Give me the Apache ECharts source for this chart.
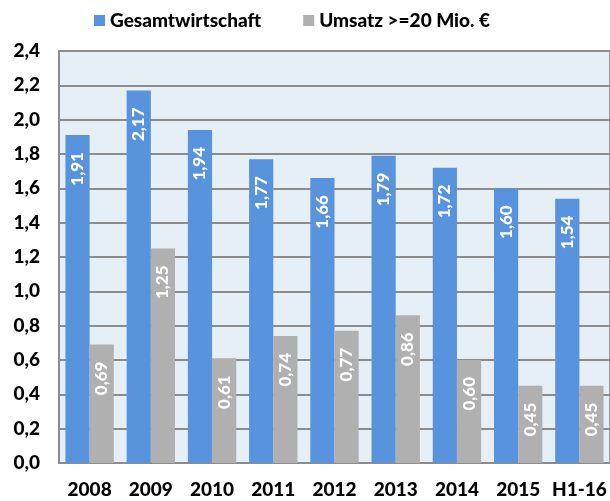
<!DOCTYPE html>
<html><head><meta charset="utf-8">
<script src="https://cdn.jsdelivr.net/npm/echarts@6/dist/echarts.min.js"></script>
<style>html,body{margin:0;padding:0;background:#fff}#c{width:610px;height:501px}</style>
</head><body><div id="c"></div>
<script>
const categories = ['2008','2009','2010','2011','2012','2013','2014','2015','H1-16'];
const gesamt = [1.91,2.17,1.94,1.77,1.66,1.79,1.72,1.60,1.54];
const umsatz = [0.69,1.25,0.61,0.74,0.77,0.86,0.60,0.45,0.45];
const seriesNames = ['Gesamtwirtschaft','Umsatz >=20 Mio. €'];
const FONT = 'Lato, "DejaVu Sans", sans-serif';
const fmt = v => v.toFixed(2).replace('.', ',');
const chart = echarts.init(document.getElementById('c'));
const lbl = {
  show: true, position: 'insideTop', rotate: 90, align: 'right', verticalAlign: 'middle',
  distance: 17, color: '#fff', fontFamily: FONT, fontWeight: 900, fontSize: 17,
  formatter: p => fmt(p.value)
};
chart.setOption({
  animation: false,
  legend: {
    top: 6, left: 89, itemWidth: 11, itemHeight: 11, itemGap: 42,
    textStyle: {fontFamily: FONT, fontWeight: 900, fontSize: 19, color: '#000'},
    data: seriesNames.map(n => ({name: n, icon: 'rect'}))
  },
  grid: {left: 59, right: 0, top: 51, bottom: 38, show: true, backgroundColor: '#e6eef6', borderColor: '#999', borderWidth: 2},
  xAxis: {
    type: 'category', data: categories,
    axisLine: {lineStyle: {color: '#8c8c8c', width: 2}},
    axisTick: {show: false},
    axisLabel: {interval: 0, fontFamily: FONT, fontWeight: 900, fontSize: 19, color: '#000', margin: 17}
  },
  yAxis: {
    type: 'value', min: 0, max: 2.4, interval: 0.2,
    axisLine: {show: true, lineStyle: {color: '#8c8c8c', width: 2}},
    axisTick: {show: false},
    splitLine: {lineStyle: {color: '#8c8c8c', width: 2}},
    axisLabel: {fontFamily: FONT, fontWeight: 900, fontSize: 19, color: '#000', margin: 19,
      formatter: v => v.toFixed(1).replace('.', ','), padding: [6,0,0,0]}
  },
  series: [
    {name: seriesNames[0], type: 'bar', data: gesamt, barGap: '0%', barCategoryGap: '21%',
     itemStyle: {color: '#5893de'}, label: lbl},
    {name: seriesNames[1], type: 'bar', data: umsatz,
     itemStyle: {color: '#b0b0b0'}, label: lbl}
  ]
});
</script></body></html>
